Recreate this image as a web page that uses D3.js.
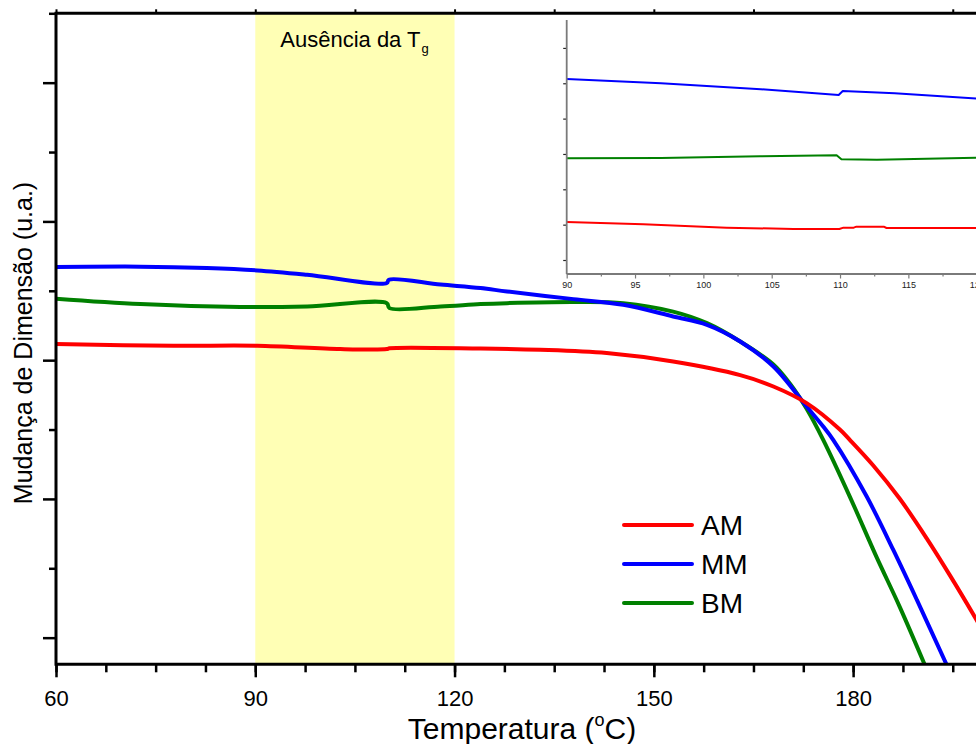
<!DOCTYPE html>
<html>
<head>
<meta charset="utf-8">
<script src="https://cdn.jsdelivr.net/npm/d3@7"></script>
<style>
  html, body { margin: 0; padding: 0; background: #fff; }
  svg { display: block; font-family: "Liberation Sans", Arial, Helvetica, sans-serif; }
</style>
</head>
<body>
<svg id="chart" width="976" height="744"></svg>
<script>
// ---- data: temperature (°C) vs dimension change (arbitrary units) ----
const seriesNames  = ["AM", "MM", "BM"];
const seriesColors = ["#ff0000", "#0000ff", "#008000"];

const amData = [[60,2.116],[77.7,2.104],[90.3,2.104],[102.8,2.080],[109.8,2.080],[110.2,2.086],[123.9,2.084],
  [132.9,2.075],[142.9,2.051],[152.9,1.990],[163,1.892],[168,1.810],[173,1.690],[178,1.500],[179.5,1.426],
  [183,1.243],[187,1.003],[191.1,0.714],[194.6,0.447],[198.5,0.135],[200,0.01]];
const mmData = [[60,2.671],[72.7,2.674],[82.7,2.664],[90.3,2.647],[97.8,2.616],[109.8,2.556],[110.1,2.580],
  [117.9,2.545],[123.9,2.520],[127.9,2.495],[137.9,2.440],[145.4,2.399],[152.9,2.315],[158,2.255],[163,2.135],
  [168,1.954],[173,1.666],[175.5,1.522],[177,1.426],[182.05,1.017],[186.05,0.632],[189.6,0.272],[194.1,-0.197]];
const bmData = [[60,2.443],[72.7,2.404],[87.7,2.383],[97.8,2.387],[109.8,2.411],[110.2,2.375],[117.9,2.387],
  [123.9,2.404],[127.9,2.411],[137.9,2.419],[145.4,2.411],[152.9,2.350],[158,2.267],[163,2.135],[168,1.969],
  [170.5,1.830],[173,1.650],[175.5,1.426],[179.5,1.017],[183.5,0.584],[187,0.224],[190.8,-0.197]];

// detail of the 90–120 °C window
const amInset = [[90,1.076],[95.6,1.010],[101.7,0.915],[106.6,0.878],[109.95,0.878],[110.25,0.915],[111,0.915],
  [111.2,0.943],[113.2,0.943],[113.4,0.906],[120,0.906]];
const mmInset = [[90,5.123],[96.9,5.000],[104.2,4.831],[109.9,4.670],[110.2,4.783],[114,4.717],[120,4.566]];
const bmInset = [[90,2.878],[96.9,2.887],[104.15,2.935],[109.75,2.963],[110.1,2.850],[112.7,2.839],[120,2.896]];

const xMajorTicks = [60, 90, 120, 150, 180];
const xMinorTicks = d3.range(60, 199, 7.5);
const xTopTicks   = d3.range(60, 199, 15);
const yMajorTicks = [0, 1, 2, 3, 4];
const yMinorTicks = [0.5, 1.5, 2.5, 3.5, 4.5];
const insetXTicks = [90, 95, 100, 105, 110, 115, 120];
const insetXMinor = d3.range(92.5, 120, 5);
const insetYTicks = [0, 1, 2, 3, 4, 5, 6];
const tgBand = [90, 120];
const bandLabel = "Ausência da T";
const bandLabelSub = "g";
const xTitle = "Temperatura (";
const xTitleSup = "o";
const xTitleEnd = "C)";
const yTitle = "Mudança de Dimensão (u.a.)";

// ---- layout ----
const svg = d3.select("#chart");
const plot = { left: 56, right: 976, top: 13.3, bottom: 664.3 };

const x = d3.scaleLinear().domain([60, 198.5]).range([plot.left, plot.right]);
const y = d3.scaleLinear().domain([-0.192, 4.5]).range([plot.bottom, plot.top]);

svg.append("defs").append("clipPath").attr("id", "plotClip")
  .append("rect")
  .attr("x", plot.left).attr("y", plot.top)
  .attr("width", plot.right - plot.left).attr("height", plot.bottom - plot.top);

// highlighted Tg window
svg.append("rect")
  .attr("x", x(tgBand[0])).attr("y", plot.top)
  .attr("width", x(tgBand[1]) - x(tgBand[0]))
  .attr("height", plot.bottom - plot.top)
  .attr("fill", "#ffffb5");

const bandText = svg.append("text")
  .attr("x", x(tgBand[0]) + 25).attr("y", 47)
  .attr("font-size", 22).attr("fill", "#000");
bandText.append("tspan").text(bandLabel);
bandText.append("tspan").attr("font-size", 13).attr("dx", 1).attr("dy", 6).text(bandLabelSub);

// curves
const line = d3.line().x(d => x(d[0])).y(d => y(d[1])).curve(d3.curveCatmullRom.alpha(0.5));
const mainSeries = [bmData, mmData, amData];
const mainColors = [seriesColors[2], seriesColors[1], seriesColors[0]];
const lines = svg.append("g").attr("clip-path", "url(#plotClip)");
mainSeries.forEach((s, i) => {
  lines.append("path").datum(s)
    .attr("d", line)
    .attr("fill", "none")
    .attr("stroke", mainColors[i])
    .attr("stroke-width", 4)
    .attr("stroke-linejoin", "round");
});

// ---- main axes ----
function styleAxis(g, width) {
  g.select(".domain").remove();
  g.selectAll(".tick line").attr("stroke", "#000").attr("stroke-width", width);
}

svg.append("g").attr("transform", `translate(0,${plot.bottom})`)
  .call(d3.axisBottom(x).tickValues(xMinorTicks).tickSize(8).tickFormat(""))
  .call(g => styleAxis(g, 2.5));
svg.append("g").attr("transform", `translate(0,${plot.bottom})`)
  .call(d3.axisBottom(x).tickValues(xMajorTicks).tickSize(13).tickPadding(13).tickFormat(d3.format("d")))
  .call(g => styleAxis(g, 2.5))
  .call(g => g.selectAll("text").attr("font-size", 22).attr("fill", "#000")
    .attr("font-family", "Liberation Sans, Arial, sans-serif"));

svg.append("g").attr("transform", `translate(0,${plot.top})`)
  .call(d3.axisTop(x).tickValues(xTopTicks).tickSize(4).tickFormat(""))
  .call(g => styleAxis(g, 2));

svg.append("g").attr("transform", `translate(${plot.left},0)`)
  .call(d3.axisLeft(y).tickValues(yMinorTicks).tickSize(7).tickFormat(""))
  .call(g => styleAxis(g, 2.5));
svg.append("g").attr("transform", `translate(${plot.left},0)`)
  .call(d3.axisLeft(y).tickValues(yMajorTicks).tickSize(13).tickFormat(""))
  .call(g => styleAxis(g, 2.5));

// spines
svg.append("line").attr("x1", plot.left).attr("x2", plot.right + 5)
  .attr("y1", plot.bottom).attr("y2", plot.bottom).attr("stroke", "#000").attr("stroke-width", 3);
svg.append("line").attr("x1", plot.left).attr("x2", plot.right + 5)
  .attr("y1", plot.top).attr("y2", plot.top).attr("stroke", "#000").attr("stroke-width", 3);
svg.append("line").attr("x1", plot.left).attr("x2", plot.left)
  .attr("y1", plot.top - 1.5).attr("y2", plot.bottom + 1.5).attr("stroke", "#000").attr("stroke-width", 3);

// axis titles
const xt = svg.append("text")
  .attr("x", 522).attr("y", 739)
  .attr("text-anchor", "middle")
  .attr("font-size", 30).attr("fill", "#000");
xt.append("tspan").text(xTitle);
xt.append("tspan").attr("font-size", 18).attr("dy", -13).text(xTitleSup);
xt.append("tspan").attr("dy", 13).text(xTitleEnd);

svg.append("text")
  .attr("transform", "translate(32,343) rotate(-90)")
  .attr("text-anchor", "middle")
  .attr("font-size", 25).attr("fill", "#000")
  .text(yTitle);

// legend
const legend = svg.append("g");
seriesNames.forEach((name, i) => {
  const ly = 525 + i * 39;
  legend.append("line")
    .attr("x1", 624).attr("x2", 692).attr("y1", ly).attr("y2", ly)
    .attr("stroke", seriesColors[i]).attr("stroke-width", 4).attr("stroke-linecap", "round");
  legend.append("text")
    .attr("x", 701).attr("y", ly + 10)
    .attr("font-size", 28).attr("fill", "#000")
    .text(name);
});

// ---- inset: 90–120 °C detail ----
const xi = d3.scaleLinear().domain([90, 120]).range([566.7, 976.7]);
const yi = d3.scaleLinear().domain([-0.396, 6.79]).range([274, 20]);
const inset = svg.append("g");
const insetGray = "#7a7a7a";

const lineI = d3.line().x(d => xi(d[0])).y(d => yi(d[1]));
[[bmInset, seriesColors[2]], [mmInset, seriesColors[1]], [amInset, seriesColors[0]]].forEach(([s, c]) => {
  inset.append("path").datum(s)
    .attr("d", lineI)
    .attr("fill", "none")
    .attr("stroke", c)
    .attr("stroke-width", 2)
    .attr("stroke-linejoin", "round");
});

inset.append("g").attr("transform", "translate(0,274)")
  .call(d3.axisBottom(xi).tickValues(insetXMinor).tickSize(2.5).tickFormat(""))
  .call(g => { g.select(".domain").remove(); g.selectAll(".tick line").attr("stroke", insetGray).attr("stroke-width", 1.2); });
inset.append("g").attr("transform", "translate(0,274)")
  .call(d3.axisBottom(xi).tickValues(insetXTicks).tickSize(4.5).tickPadding(3).tickFormat(d3.format("d")))
  .call(g => {
    g.select(".domain").remove();
    g.selectAll(".tick line").attr("stroke", insetGray).attr("stroke-width", 1.2);
    g.selectAll("text").attr("font-size", 9).attr("fill", "#222")
      .attr("font-family", "Liberation Sans, Arial, sans-serif");
  });
inset.append("g").attr("transform", "translate(566.7,0)")
  .call(d3.axisLeft(yi).tickValues(insetYTicks).tickSize(3.5).tickFormat(""))
  .call(g => { g.select(".domain").remove(); g.selectAll(".tick line").attr("stroke", "#222").attr("stroke-width", 1.2); });

inset.append("line").attr("x1", 566.7).attr("x2", 566.7).attr("y1", 20).attr("y2", 274)
  .attr("stroke", insetGray).attr("stroke-width", 1.8);
inset.append("line").attr("x1", 566.7).attr("x2", 980).attr("y1", 274).attr("y2", 274)
  .attr("stroke", insetGray).attr("stroke-width", 1.8);
</script>
</body>
</html>
